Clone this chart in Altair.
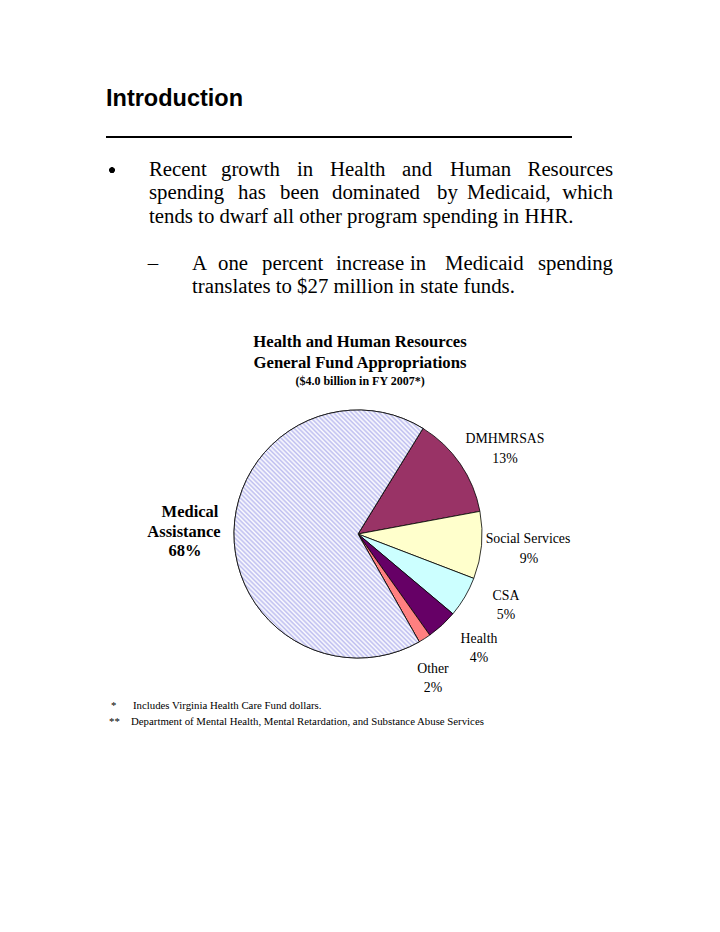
import math
import altair as alt
import pandas as pd

# ---------------- data ----------------
categories = ["DMHMRSAS", "Social Services", "CSA", "Health", "Other", "Medical Assistance"]
shares = [13.3, 8.75, 5.3, 4.05, 1.6, 67.0]
pct_labels = ["13%", "9%", "5%", "4%", "2%", "68%"]
slice_colors = ["#993366", "#FFFFCC", "#CCFFFF", "#660066", "#FF8080", "#FFFFFF"]

# page layout (page pixel coordinates, converted below)
M = 8
W, H = 704, 916
CX, CY, R = 358, 534, 124
START = 0.5515  # radians, clockwise from 12 o'clock


def px(v):
    return v - M


pie_df = pd.DataFrame({"cat": categories, "share": shares, "idx": list(range(len(categories)))})

theta = alt.Theta("share:Q", stack=True,
                  scale=alt.Scale(domain=[0, 100], range=[START, START + 2 * math.pi]))
order = alt.Order("idx:Q", sort="ascending")

base_arc = alt.Chart(pie_df).mark_arc(outerRadius=R, stroke="#000000", strokeWidth=0.8).encode(
    theta=theta,
    order=order,
    color=alt.Color("cat:N", scale=alt.Scale(domain=categories, range=slice_colors), legend=None),
    x=alt.value(px(CX)),
    y=alt.value(px(CY)),
)

# hatch fill for Medical Assistance (diagonal stripes via a repeating linear gradient)
N = 96
stops = []
for k in range(N):
    stops.append(alt.GradientStop(color="#FDFDFF", offset=k / N))
    stops.append(alt.GradientStop(color="#BDBDEF", offset=(k + 0.5) / N))
stops.append(alt.GradientStop(color="#FDFDFF", offset=1.0))
hatch = alt.LinearGradient(gradient="linear", stops=stops, x1=0, y1=1, x2=0.85, y2=-0.12)

hatch_arc = alt.Chart(pie_df).mark_arc(outerRadius=R, fill=hatch, stroke="#000000", strokeWidth=0.8).encode(
    theta=theta,
    order=order,
    opacity=alt.condition("datum.cat == 'Medical Assistance'", alt.value(1), alt.value(0)),
    x=alt.value(px(CX)),
    y=alt.value(px(CY)),
)


def text_layer(rows, font, size, weight="normal", align="left", color="#000000"):
    df = pd.DataFrame(rows, columns=["t", "x", "y"])
    df["x"] = df["x"] - M
    df["y"] = df["y"] - M
    return alt.Chart(df).mark_text(
        font=font, fontSize=size, fontWeight=weight, align=align,
        baseline="alphabetic", color=color,
    ).encode(
        x=alt.X("x:Q", scale=None, axis=None),
        y=alt.Y("y:Q", scale=None, axis=None),
        text="t:N",
    )


# ---------------- page text ----------------
heading = text_layer([("Introduction", 106, 106)], "Liberation Sans", 23.5, "bold")

rule = alt.Chart(pie_df).mark_rule(color="#000000", strokeWidth=2).encode(
    x=alt.value(px(106)), x2=alt.value(px(572)), y=alt.value(px(137))
)

bullet = alt.Chart(pie_df).mark_circle(color="#000000", opacity=1, size=26).encode(
    x=alt.value(px(112)), y=alt.value(px(170))
)

body_left = [
    ("Recent", 149, 176), ("growth", 221, 176), ("in", 297, 176), ("Health", 330, 176),
    ("and", 402, 176), ("Human", 450, 176),
    ("spending", 149, 199), ("has", 238, 199), ("been", 280, 199), ("dominated", 332, 199),
    ("by", 437, 199), ("Medicaid,", 467, 199),
    ("tends to dwarf all other program spending in HHR.", 149, 223),
    ("A", 192, 270), ("one", 218, 270), ("percent", 262, 270), ("increase", 336, 270),
    ("in", 410, 270), ("Medicaid", 445, 270),
    ("translates to $27 million in state funds.", 192, 293),
]
body_right = [("Resources", 613, 176), ("which", 613, 199), ("spending", 613, 270)]
markers = [("\u2013", 153, 270)]

BODY = 20.8
body_l = text_layer(body_left, "Liberation Serif", BODY)
body_r = text_layer(body_right, "Liberation Serif", BODY, align="right")
marks_t = text_layer(markers, "Liberation Serif", BODY, align="center")

# ---------------- chart titles ----------------
titles = text_layer([("Health and Human Resources", 360, 347),
                     ("General Fund Appropriations", 360, 368)],
                    "Liberation Serif", 16.7, "bold", "center")
subtitle = text_layer([("($4.0 billion in FY 2007*)", 360, 385)],
                      "Liberation Serif", 12, "bold", "center")

# ---------------- slice labels ----------------
slice_labels = text_layer([
    ("DMHMRSAS", 505, 443), (pct_labels[0], 505, 463),
    ("Social Services", 528, 543), (pct_labels[1], 529, 563),
    ("CSA", 506, 600), (pct_labels[2], 506, 619),
    ("Health", 479, 643), (pct_labels[3], 479, 662),
    ("Other", 433, 673), (pct_labels[4], 433, 692),
], "Liberation Serif", 13.8, "normal", "center")

med_label = text_layer([
    ("Medical", 190, 517), ("Assistance", 184, 537), (pct_labels[5], 185, 556),
], "Liberation Serif", 16.5, "bold", "center")

# ---------------- footnotes ----------------
foot = text_layer([
    ("*", 111, 709), ("Includes Virginia Health Care Fund dollars.", 133, 709),
    ("**", 109, 725), ("Department of Mental Health, Mental Retardation, and Substance Abuse Services", 131, 725),
], "Liberation Serif", 10.8)

chart = alt.layer(
    base_arc, hatch_arc, rule, bullet, heading, body_l, body_r, marks_t,
    titles, subtitle, slice_labels, med_label, foot,
).properties(
    width=W, height=H, padding=0, autosize="none"
).configure_view(strokeWidth=0)

chart.save("out.html", embed_options={"renderer": "svg", "actions": False})
